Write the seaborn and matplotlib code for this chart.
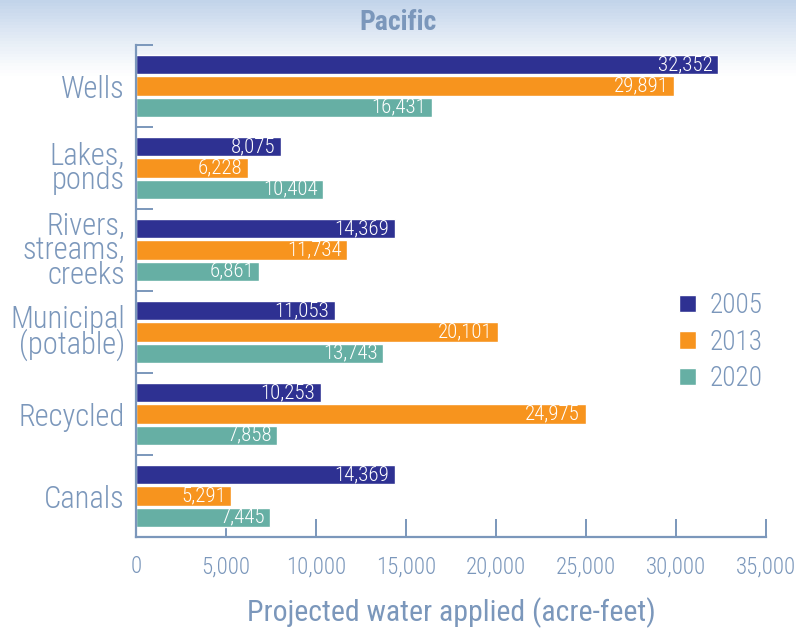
import numpy as np
import pandas as pd
import matplotlib
matplotlib.use("Agg")
import matplotlib.pyplot as plt
import seaborn as sns
from matplotlib.ticker import FuncFormatter, FixedLocator

sns.set_theme(style="white")
plt.rcParams['font.family'] = ['Roboto Condensed', 'DejaVu Sans']
plt.rcParams['font.weight'] = 'light'

categories = ["Wells", "Lakes,\nponds", "Rivers,\nstreams,\ncreeks", "Municipal\n(potable)", "Recycled", "Canals"]
years = ["2005", "2013", "2020"]
values_2005 = [32352, 8075, 14369, 11053, 10253, 14369]
values_2013 = [29891, 6228, 11734, 20101, 24975, 5291]
values_2020 = [16431, 10404, 6861, 13743, 7858, 7445]
x_ticks = [0, 5000, 10000, 15000, 20000, 25000, 30000, 35000]

colors = ["#2e3192", "#f7941e", "#66afa4"]
slate = "#7b97bb"

rows = []
for y, vals in zip(years, [values_2005, values_2013, values_2020]):
    for c, v in zip(categories, vals):
        rows.append({"Source": c, "Year": y, "Value": v})
df = pd.DataFrame(rows)

fig = plt.figure(figsize=(7.96, 6.32), dpi=100)

# background gradient at top
bg = fig.add_axes([0, 0, 1, 1], zorder=-10)
grad = np.linspace(0, 1, 200).reshape(-1, 1)
alpha = np.clip(1 - grad / 0.12, 0, 1) ** 1.2
img = np.ones((200, 1, 4))
top = np.array(matplotlib.colors.to_rgb("#c2d4ea"))
img[:, 0, :3] = top * alpha + (1 - alpha)
img[:, 0, 3] = 1
bg.imshow(img, aspect="auto", extent=[0, 1, 0, 1], transform=bg.transAxes)
bg.axis("off")

ax = fig.add_axes([136/796, 1 - 537/632, 630/796, 492/632])
ax.patch.set_alpha(0)
sns.barplot(data=df, y="Source", x="Value", hue="Year", orient="h",
            palette=colors, width=0.78, gap=0.08, saturation=1,
            ax=ax, legend=True)

ax.set_xlim(0, 35000)
ax.set_ylim(len(categories) - 0.5, -0.5)
ax.xaxis.set_major_locator(FixedLocator(x_ticks))
ax.xaxis.set_major_formatter(FuncFormatter(lambda v, p: f"{int(v):,}"))

for s in ["top", "right"]:
    ax.spines[s].set_visible(False)
for s in ["left", "bottom"]:
    ax.spines[s].set_color(slate)
    ax.spines[s].set_linewidth(1.6)

ax.tick_params(axis="x", direction="in", length=13, width=1.4, color=slate,
               labelcolor=slate, labelsize=16.5, pad=13, bottom=True)
ax.tick_params(axis="y", which="major", length=0, labelcolor=slate, labelsize=22, pad=8)
ax.set_yticks(np.arange(-0.5, len(categories), 1.0), minor=True)
ax.tick_params(axis="y", which="minor", direction="in", length=12, width=1.4,
               color=slate, left=True)
for t in ax.get_yticklabels():
    t.set_linespacing(0.8)
    t.set_ha("right")

ax.set_ylabel("")
ax.set_xlabel("Projected water applied (acre-feet)", color=slate, fontsize=21.5, labelpad=14)

for cont in ax.containers:
    for p in cont.patches:
        w = p.get_width()
        ax.annotate(f"{int(w):,}", (w, p.get_y() + p.get_height() / 2),
                    xytext=(-4, 0), textcoords="offset points",
                    ha="right", va="center", color="white", fontsize=15)

leg = ax.legend(loc="center left", bbox_to_anchor=(655/796, 1 - 342/632),
                bbox_transform=fig.transFigure, frameon=False,
                fontsize=19.5, handlelength=0.6, handleheight=0.6,
                labelspacing=0.35, handletextpad=0.5)
for t in leg.get_texts():
    t.set_color(slate)

fig.text(0.5, 1 - 22/632, "Pacific", ha="center", va="center",
         fontsize=20, fontweight="bold", color=slate)

fig.savefig("out.png", dpi=100)
